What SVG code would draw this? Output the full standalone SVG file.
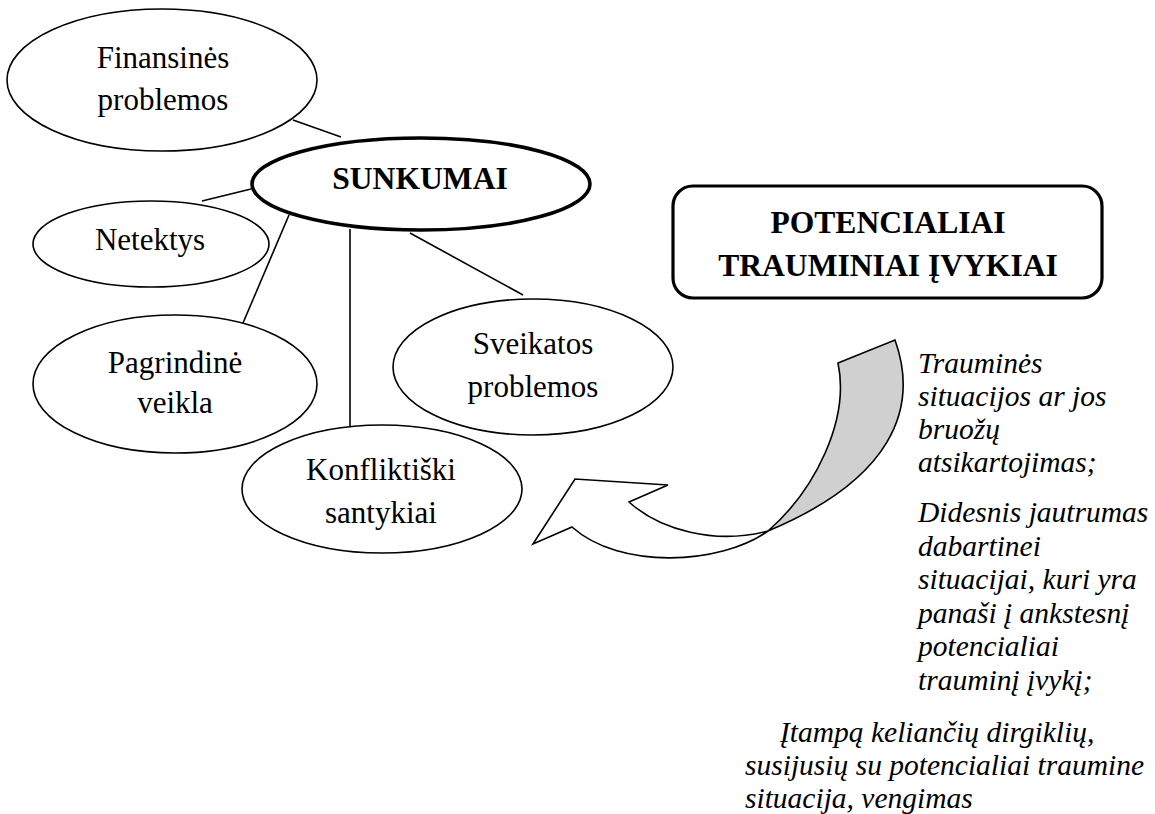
<svg xmlns="http://www.w3.org/2000/svg" width="1155" height="814" viewBox="0 0 1155 814">
<style>
.node{fill:#fff;stroke:#000;stroke-width:1.6}
.main{fill:#fff;stroke:#000;stroke-width:3.6}
.t{font-family:"Liberation Serif","Times New Roman",serif;font-size:31px;fill:#000;text-anchor:middle}
.b{font-weight:bold;font-size:31.6px}
.i{font-family:"Liberation Serif","Times New Roman",serif;font-size:29.5px;font-style:italic;fill:#000}
.con line{stroke:#000;stroke-width:1.6}
.arrow{stroke:#000;stroke-width:1.6;stroke-linejoin:miter}
</style>
<rect width="1155" height="814" fill="#fff"/>
<g class="con" id="connectors">
<line x1="293" y1="120" x2="341" y2="137"/>
<line x1="202" y1="201" x2="251" y2="189"/>
<line x1="289" y1="215" x2="243" y2="323"/>
<line x1="350" y1="229" x2="350" y2="426"/>
<line x1="410" y1="233" x2="523" y2="295"/>
</g>
<g id="finansines">
<ellipse class="node" cx="162" cy="80" rx="155" ry="71"/>
<text class="t" x="163" y="68">Finansinės</text>
<text class="t" x="163" y="110">problemos</text>
</g>
<g id="sunkumai">
<ellipse class="main" cx="421" cy="184" rx="169" ry="46"/>
<text class="t b" x="420" y="189">SUNKUMAI</text>
</g>
<g id="netektys">
<ellipse class="node" cx="151" cy="244" rx="118" ry="43"/>
<text class="t" x="150" y="250">Netektys</text>
</g>
<g id="pagrindine">
<ellipse class="node" cx="175" cy="384" rx="142" ry="69"/>
<text class="t" x="175" y="373">Pagrindinė</text>
<text class="t" x="175" y="413">veikla</text>
</g>
<g id="sveikatos">
<ellipse class="node" cx="533" cy="367" rx="140" ry="68"/>
<text class="t" x="533" y="354">Sveikatos</text>
<text class="t" x="533" y="397">problemos</text>
</g>
<g id="konfliktiski">
<ellipse class="node" cx="382" cy="489" rx="140" ry="64"/>
<text class="t" x="381" y="480">Konfliktiški</text>
<text class="t" x="381" y="523">santykiai</text>
</g>
<g id="potencialiai">
<rect x="673" y="186" width="429" height="112" rx="20" ry="20" fill="#fff" stroke="#000" stroke-width="3.2"/>
<text class="t b" x="888" y="233">POTENCIALIAI</text>
<text class="t b" x="888" y="276">TRAUMINIAI ĮVYKIAI</text>
</g>
<g id="curved-arrow">
<path class="arrow" fill="#fff" d="M533,544 L575,479 L668,485 L629,502 C660,530 715,545 768,531 C720,565 620,570 572,527 Z"/>
<path class="arrow" fill="#d0d0d0" d="M768,531 C815,490 850,420 838,363 L895,340 C920,410 890,480 768,531 Z"/>
</g>
<g id="text-block">
<text class="i" x="918" y="373">Trauminės</text>
<text class="i" x="918" y="406">situacijos ar jos</text>
<text class="i" x="918" y="439">bruožų</text>
<text class="i" x="918" y="472">atsikartojimas;</text>
<text class="i" x="918" y="522">Didesnis jautrumas</text>
<text class="i" x="918" y="555.5">dabartinei</text>
<text class="i" x="918" y="589">situacijai, kuri yra</text>
<text class="i" x="918" y="622.5">panaši į ankstesnį</text>
<text class="i" x="918" y="656">potencialiai</text>
<text class="i" x="918" y="689.5">trauminį įvykį;</text>
<text class="i" x="780" y="742">Įtampą keliančių dirgiklių,</text>
<text class="i" x="745" y="775">susijusių su potencialiai traumine</text>
<text class="i" x="745" y="808">situacija, vengimas</text>
</g>
</svg>
